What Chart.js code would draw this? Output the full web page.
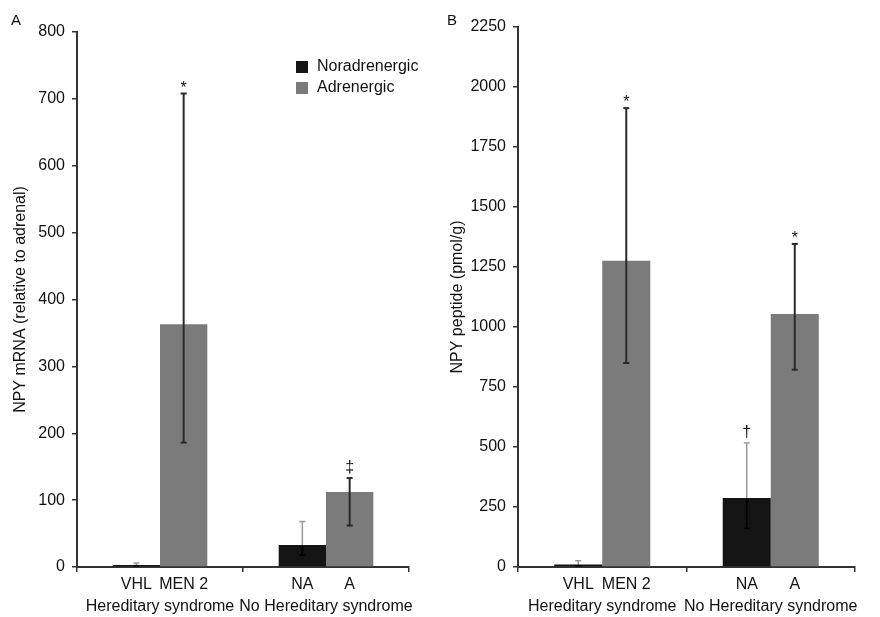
<!DOCTYPE html>
<html>
<head>
<meta charset="utf-8">
<script src="https://cdn.jsdelivr.net/npm/chart.js@4.4.1/dist/chart.umd.min.js"></script>
<style>
  html, body { margin: 0; padding: 0; background: #fff; }
  body { width: 880px; height: 617px; position: relative; overflow: hidden; font-family: "Liberation Sans", Arial, sans-serif; }
  .panel { position: absolute; top: 0; width: 440px; height: 617px; }
  .letter { position: absolute; font-size: 15px; color: #111; }
</style>
</head>
<body>
<div class="panel" style="left:0"><canvas id="cA" width="440" height="617"></canvas></div>
<div class="panel" style="left:440px"><canvas id="cB" width="440" height="617"></canvas></div>
<span class="letter" style="left:11px; top:11px">A</span>
<span class="letter" style="left:447px; top:11px">B</span>
<script>
// ---- data ----
const groups = ['Hereditary syndrome', 'No Hereditary syndrome'];
const seriesNames = ['Noradrenergic', 'Adrenergic'];
const subLabelsNor = ['VHL', 'NA'];
const subLabelsAdr = ['MEN 2', 'A'];

// Panel A: NPY mRNA
const aNor = [3, 33];
const aNorLow = [2, 18];
const aNorHigh = [6, 68];
const aAdr = [363, 112];
const aAdrLow = [186, 62];
const aAdrHigh = [708, 133];
const aNorMarks = ['', ''];
const aAdrMarks = ['*', '\u2021'];
const aTicks = { min: 0, max: 800, step: 100 };

// Panel B: NPY peptide
const bNor = [10, 287];
const bNorLow = [5, 161];
const bNorHigh = [26, 517];
const bAdr = [1276, 1054];
const bAdrLow = [850, 822];
const bAdrHigh = [1912, 1346];
const bNorMarks = ['', '\u2020'];
const bAdrMarks = ['*', '*'];
const bTicks = { min: 0, max: 2250, step: 250 };

const FONT = '"Liberation Sans", Arial, sans-serif';
const FS = 16;
const NOR_COLOR = '#141414';
const ADR_COLOR = '#7b7b7b';

const errorPlugin = {
  id: 'errbars',
  afterDatasetsDraw(chart) {
    const ctx = chart.ctx;
    const y = chart.scales.y;
    const cfg = chart.options.plugins.errbars;
    chart.data.datasets.forEach((ds, di) => {
      const meta = chart.getDatasetMeta(di);
      meta.data.forEach((bar, i) => {
        const x = bar.x;
        const yTop = y.getPixelForValue(ds.errHigh[i]);
        const yLow = y.getPixelForValue(ds.errLow[i]);
        const yVal = y.getPixelForValue(ds.data[i]);
        ctx.save();
        if (di === 0) {
          ctx.strokeStyle = '#9a9a9a';
          ctx.lineWidth = 1.5;
          ctx.beginPath(); ctx.moveTo(x, yTop); ctx.lineTo(x, yVal); ctx.stroke();
          ctx.beginPath(); ctx.moveTo(x - 3, yTop); ctx.lineTo(x + 3, yTop); ctx.stroke();
          ctx.strokeStyle = '#000';
          ctx.beginPath(); ctx.moveTo(x, yVal); ctx.lineTo(x, yLow); ctx.stroke();
          ctx.beginPath(); ctx.moveTo(x - 3, yLow); ctx.lineTo(x + 3, yLow); ctx.stroke();
        } else {
          ctx.strokeStyle = '#2a2a2a';
          ctx.lineWidth = 2;
          ctx.beginPath(); ctx.moveTo(x, yTop); ctx.lineTo(x, yLow); ctx.stroke();
          ctx.beginPath(); ctx.moveTo(x - 3, yTop); ctx.lineTo(x + 3, yTop); ctx.stroke();
          ctx.beginPath(); ctx.moveTo(x - 3, yLow); ctx.lineTo(x + 3, yLow); ctx.stroke();
        }
        const m = ds.marks[i];
        if (m) {
          ctx.fillStyle = '#111';
          ctx.font = FS + 'px ' + FONT;
          ctx.textAlign = 'center';
          ctx.textBaseline = 'alphabetic';
          const off = (m === '*') ? cfg.starOff : 6;
          ctx.fillText(m, x, yTop - off);
        }
        ctx.fillStyle = '#111';
        ctx.font = FS + 'px ' + FONT;
        ctx.textAlign = 'center';
        ctx.textBaseline = 'middle';
        ctx.fillText(ds.subLabels[i], x, 585);
        ctx.restore();
      });
    });
    if (cfg.legend) {
      ctx.save();
      ctx.font = FS + 'px ' + FONT;
      ctx.textBaseline = 'middle';
      ctx.textAlign = 'left';
      chart.data.datasets.forEach((ds, di) => {
        const cy = 67 + di * 21;
        ctx.fillStyle = ds.backgroundColor;
        ctx.fillRect(296, cy - 6, 12, 12);
        ctx.fillStyle = '#111';
        ctx.fillText(ds.label, 317, cy);
      });
      ctx.restore();
    }
  }
};

function makeChart(id, nor, norLow, norHigh, norMarks, adr, adrLow, adrHigh, adrMarks, ticks, title, axisW, padTop, padRight, titlePad, legend, starOff) {
  return new Chart(document.getElementById(id), {
    type: 'bar',
    data: {
      labels: groups,
      datasets: [
        { label: seriesNames[0], data: nor, errLow: norLow, errHigh: norHigh, marks: norMarks, subLabels: subLabelsNor,
          backgroundColor: NOR_COLOR, borderWidth: 0, categoryPercentage: 0.57, barPercentage: 1.0 },
        { label: seriesNames[1], data: adr, errLow: adrLow, errHigh: adrHigh, marks: adrMarks, subLabels: subLabelsAdr,
          backgroundColor: ADR_COLOR, borderWidth: 0, categoryPercentage: 0.57, barPercentage: 1.0 }
      ]
    },
    options: {
      responsive: false,
      animation: false,
      devicePixelRatio: 1,
      layout: { padding: { top: padTop, right: padRight, left: 0, bottom: 0 } },
      plugins: {
        legend: { display: false },
        tooltip: { enabled: false },
        errbars: { legend: legend, starOff: starOff }
      },
      scales: {
        x: {
          offset: true,
          grid: { offset: true, drawOnChartArea: false, drawTicks: true, tickLength: 5, color: '#333', lineWidth: 1.5 },
          border: { color: '#333', width: 2 },
          ticks: { color: '#111', padding: 25, font: { family: FONT, size: FS }, maxRotation: 0, minRotation: 0, autoSkip: false },
          afterFit(s) { s.height = 50; s.paddingLeft = 0; s.paddingRight = 0; }
        },
        y: {
          min: ticks.min, max: ticks.max,
          grid: { drawOnChartArea: false, drawTicks: true, tickLength: 5, color: '#333', lineWidth: 1.5 },
          border: { color: '#333', width: 2 },
          ticks: { stepSize: ticks.step, color: '#111', padding: 7, font: { family: FONT, size: FS },
                   callback: (v) => String(v) },
          title: { display: true, text: title, color: '#111', font: { family: FONT, size: FS }, padding: { top: titlePad, bottom: 0 } },
          afterFit(s) { s.width = axisW; }
        }
      }
    },
    plugins: [errorPlugin]
  });
}

makeChart('cA', aNor, aNorLow, aNorHigh, aNorMarks, aAdr, aAdrLow, aAdrHigh, aAdrMarks, aTicks,
  'NPY mRNA (relative to adrenal)', 77, 32, 31, 11, true, 1);
makeChart('cB', bNor, bNorLow, bNorHigh, bNorMarks, bAdr, bAdrLow, bAdrHigh, bAdrMarks, bTicks,
  'NPY peptide (pmol/g)', 78, 27, 25, 8, false, 1);
</script>
</body>
</html>
